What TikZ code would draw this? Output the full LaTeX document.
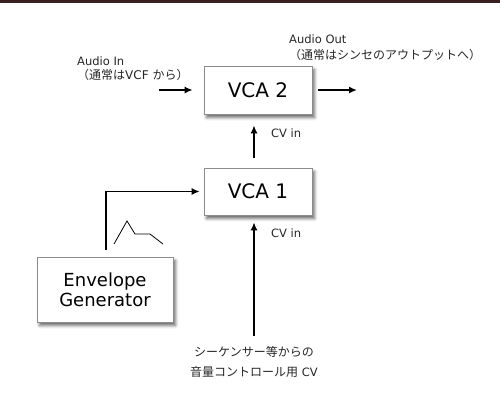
\documentclass[tikz,border=0pt]{standalone}
\usepackage{fontspec}
\setmainfont{DejaVu Sans}
\newfontfamily\jp{Noto Sans CJK JP}
\usetikzlibrary{arrows.meta,shadows.blur}
\definecolor{topband}{RGB}{58,32,32}
\definecolor{boxline}{RGB}{140,140,140}
\begin{document}
\begin{tikzpicture}[x=1pt,y=-1pt,
  box/.style={draw=boxline, line width=0.6pt, fill=white, minimum width=108pt, inner sep=0pt,
    blur shadow={shadow xshift=2.5pt, shadow yshift=-3.5pt, shadow blur radius=3pt, shadow opacity=60}},
  conn/.style={line width=1.6pt, -{Latex[length=8pt,width=7pt]}},
  lbl/.style={font=\fontsize{11.5}{14}\selectfont, inner sep=0pt, text=black!85},
  jl/.style={font=\fontsize{12}{14}\selectfont, inner sep=0pt, text=black!85},
]
\useasboundingbox (0,0) rectangle (500,416);
\fill[topband] (0,0) rectangle (500,2.5);

\node[box, minimum height=48pt, font=\fontsize{20}{24}\selectfont] (vca2) at (258,90) {VCA 2};
\node[box, minimum height=47pt, font=\fontsize{20}{24}\selectfont] (vca1) at (258,191.5) {VCA 1};
\node[box, minimum width=136pt, minimum height=65pt, align=center, font=\fontsize{18}{20}\selectfont] (eg) at (105,289.5) {Envelope\\Generator};

\draw[line width=0.8pt] (114,244) -- (127,221) -- (135,234) -- (150,234) -- (163,244);

\node[lbl, anchor=west] (aintxt) at (77,61) {Audio In};
\node[jl, anchor=west] (ainsub) at (77,75) {{\jp （通常は}VCF {\jp から）}};
\node[lbl, anchor=west] (aouttxt) at (289,39) {Audio Out};
\node[jl, anchor=west] (aoutsub) at (289,55) {\jp （通常はシンセのアウトプットへ）};
\node[lbl, anchor=west] (cv2) at (271,133) {CV in};
\node[lbl, anchor=west] (cv1) at (271,233) {CV in};
\node[jl, align=center, font=\jp\fontsize{12}{20}\selectfont] (src) at (254,362) {シーケンサー等からの\\音量コントロール用{\rmfamily\fontsize{11.5}{20}\selectfont\ CV}};

\coordinate (ain) at (159,90);
\coordinate (aout) at (357,90);
\coordinate (cvsrc) at (254,336);
\coordinate (egout) at (106,250);

\draw[conn, shorten >=11pt] (ain) -- (vca2.west);
\draw[conn, shorten <=6pt] (vca2.east) -- (aout);
\draw[conn, shorten <=10pt, shorten >=11pt] (vca1.north -| cvsrc) -- (vca2.south -| cvsrc);
\draw[conn, shorten >=7pt] (cvsrc) -- (cvsrc |- vca1.south);
\draw[conn, shorten >=4pt] (egout) |- (vca1.west);
\end{tikzpicture}
\end{document}
